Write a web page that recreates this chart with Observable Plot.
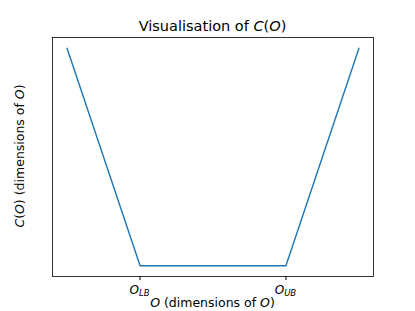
<!DOCTYPE html>
<html><head><meta charset="utf-8">
<script src="https://cdn.jsdelivr.net/npm/d3@7"></script>
<script src="https://cdn.jsdelivr.net/npm/@observablehq/plot@0.6"></script>
<style>body{margin:0;background:#fff}svg{font-family:"DejaVu Sans",sans-serif}</style>
</head><body><div id="chart"></div>
<script>
const xs = [0, 1, 3, 4];
const ys = [3, 0, 0, 3];
const tickValues = [1, 3];
const tickSubs = ["LB", "UB"];
const data = xs.map((x, i) => ({x, y: ys[i]}));
const O = "O";

const chart = Plot.plot({
  width: 415, height: 311,
  marginLeft: 52, marginRight: 42, marginTop: 37, marginBottom: 35,
  x: {domain: [-0.2, 4.2], axis: null},
  y: {domain: [-0.15, 3.15], axis: null},
  marks: [
    Plot.frame({stroke: "#000", strokeWidth: 0.8}),
    Plot.line(data, {x: "x", y: "y", stroke: "#1f77b4", strokeWidth: 1.5}),
    Plot.axisX({ticks: tickValues, tickSize: 4, tickFormat: () => "", label: null, stroke: "#000"})
  ]
});
document.getElementById("chart").append(chart);
const svg = d3.select(chart);
const xsc = chart.scale("x");
tickValues.forEach((v, i) => {
  const t = svg.append("text").attr("x", xsc.apply(v)).attr("y", 294)
    .attr("text-anchor", "middle").attr("font-size", 12).attr("fill", "#000");
  t.append("tspan").attr("font-style", "italic").text(O);
  t.append("tspan").attr("font-size", 8.5).attr("font-style", "italic").attr("dy", 2).text(tickSubs[i]);
});
const title = svg.append("text").attr("x", 212.5).attr("y", 31).attr("text-anchor", "middle")
  .attr("font-size", 14.5).attr("fill", "#000");
title.append("tspan").text("Visualisation of ");
title.append("tspan").attr("font-style", "italic").text("C");
title.append("tspan").text("(");
title.append("tspan").attr("font-style", "italic").text(O);
title.append("tspan").text(")");

const xl = svg.append("text").attr("x", 212.5).attr("y", 307).attr("text-anchor", "middle")
  .attr("font-size", 12.5).attr("fill", "#000");
xl.append("tspan").attr("font-style", "italic").text(O);
xl.append("tspan").text(" (dimensions of ");
xl.append("tspan").attr("font-style", "italic").text(O);
xl.append("tspan").text(")");

const yl = svg.append("text").attr("transform", "translate(24,156) rotate(-90)").attr("text-anchor", "middle")
  .attr("font-size", 12.5).attr("fill", "#000");
yl.append("tspan").attr("font-style", "italic").text("C");
yl.append("tspan").text("(");
yl.append("tspan").attr("font-style", "italic").text(O);
yl.append("tspan").text(") (dimensions of ");
yl.append("tspan").attr("font-style", "italic").text(O);
yl.append("tspan").text(")");
</script></body></html>
